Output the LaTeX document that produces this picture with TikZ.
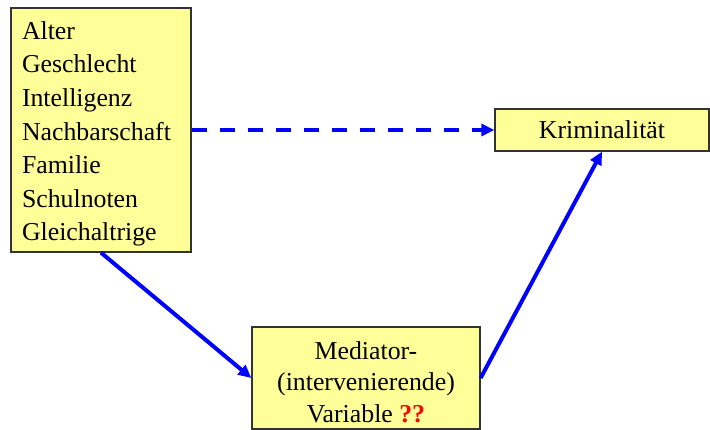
\documentclass[tikz,border=0pt]{standalone}
\usepackage{fontspec}
\setmainfont{Liberation Serif}
\usepackage{tikz}
\usetikzlibrary{arrows.meta}
\definecolor{pale yellow}{RGB}{255,255,153}
\definecolor{dark frame}{RGB}{51,51,51}
\definecolor{pure blue}{RGB}{0,0,255}
\definecolor{pure red}{RGB}{255,0,0}

\begin{document}
\begin{tikzpicture}[x=1pt, y=1pt,
		var box/.style = {draw=dark frame, line width=1.3pt, fill=pale yellow, inner sep=0pt,
			font=\fontsize{25.8}{31.5}\selectfont},
		path arrow/.style = {draw=pure blue, line width=4pt, -{Triangle[length=13pt, width=12pt]}}]
			\useasboundingbox (0, 0) rectangle (710, 430);
			% boxes
			\node[var box, minimum width=180, minimum height=244, text width=158, align=left,
				font=\fontsize{25.8}{33.6}\selectfont] (factors) at (101, 300)
				{\rule{0pt}{25.6pt}Alter\\Geschlecht\\Intelligenz\\Nachbarschaft\\Familie\\Schulnoten\\Gleichaltrige};
			\node[var box, minimum width=214, minimum height=42] (crime) at (602, 300) {Kriminalität};
			\node[var box, minimum width=228, minimum height=102, align=center] (mediator) at (366, 52)
				{\rule{0pt}{25.6pt}Mediator-\\(intervenierende)\\Variable \textcolor{pure red}{\textbf{??}}};
			% arrows
			\draw[path arrow, dash pattern=on 15pt off 13pt] (factors.east) -- (crime.west);
			\draw[path arrow] (factors.south) -- (mediator.west);
			\draw[path arrow] (mediator.east) -- (crime.south);
		\end{tikzpicture}
\end{document}
